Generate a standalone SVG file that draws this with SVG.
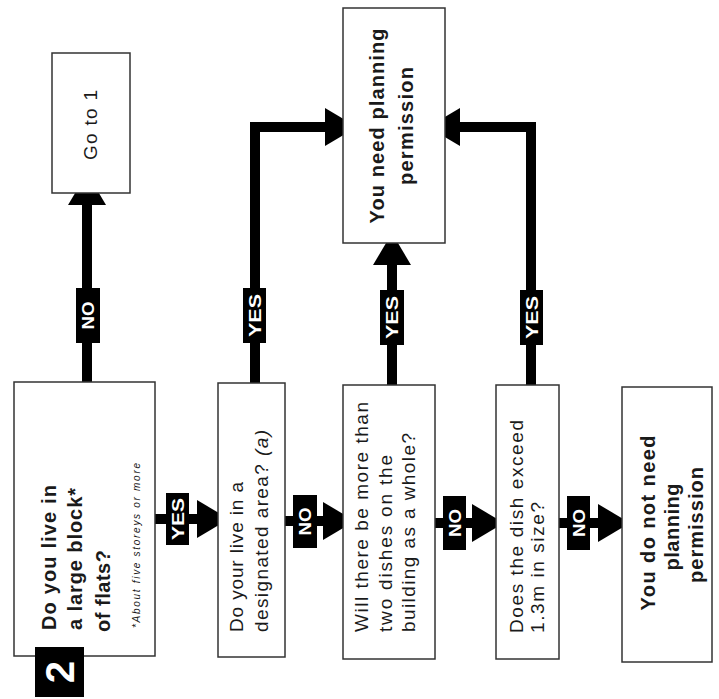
<svg xmlns="http://www.w3.org/2000/svg" width="719" height="699" viewBox="0 0 719 699">
<style>
.box{fill:#fff;stroke:#333;stroke-width:1.5}
.t{font-family:"Liberation Sans",Arial,Helvetica,sans-serif;font-size:19px;fill:#1a1a1a}
.bd{font-weight:bold;font-size:20px}
.c{text-anchor:middle}
.fn{font-size:10px;font-style:italic}
.wire{fill:none;stroke:#000;stroke-width:10;stroke-linejoin:miter}
.tag{fill:#000}
.lbl{font-family:"Liberation Sans",Arial,Helvetica,sans-serif;font-size:17px;font-weight:bold;fill:#fff;text-anchor:middle}
</style>
<defs>
<marker id="ah" viewBox="0 0 32 38" refX="0" refY="19" markerWidth="32" markerHeight="38" markerUnits="userSpaceOnUse" orient="auto">
<path d="M0,0 L32,19 L0,38 z" fill="#000"/>
</marker>
</defs>
<rect width="719" height="699" fill="#fff"/>

<g id="connectors">
<path class="wire" d="M87,382 V205" marker-end="url(#ah)"/>
<path class="wire" d="M255,383 V127 H325" marker-end="url(#ah)"/>
<path class="wire" d="M392,385 V265" marker-end="url(#ah)"/>
<path class="wire" d="M531,385 V127 H460" marker-end="url(#ah)"/>
<path class="wire" d="M155,519 H197" marker-end="url(#ah)"/>
<path class="wire" d="M285,521 H323" marker-end="url(#ah)"/>
<path class="wire" d="M435,523 H472" marker-end="url(#ah)"/>
<path class="wire" d="M559,523 H598" marker-end="url(#ah)"/>

<rect class="tag" x="76" y="288" width="24" height="55"/>
<text class="lbl" transform="translate(94,315.5) rotate(-90)" textLength="28" lengthAdjust="spacingAndGlyphs">NO</text>
<rect class="tag" x="243" y="288" width="23" height="55"/>
<text class="lbl" transform="translate(260.5,315.5) rotate(-90)" textLength="43" lengthAdjust="spacingAndGlyphs">YES</text>
<rect class="tag" x="380" y="290" width="24" height="55"/>
<text class="lbl" transform="translate(398,317.5) rotate(-90)" textLength="43" lengthAdjust="spacingAndGlyphs">YES</text>
<rect class="tag" x="520" y="290" width="23" height="55"/>
<text class="lbl" transform="translate(537.5,317.5) rotate(-90)" textLength="43" lengthAdjust="spacingAndGlyphs">YES</text>
<rect class="tag" x="166" y="493" width="23" height="52"/>
<text class="lbl" transform="translate(183.5,519) rotate(-90)" textLength="42" lengthAdjust="spacingAndGlyphs">YES</text>
<rect class="tag" x="293" y="495" width="24" height="53"/>
<text class="lbl" transform="translate(311,521.5) rotate(-90)" textLength="28" lengthAdjust="spacingAndGlyphs">NO</text>
<rect class="tag" x="443" y="496" width="23" height="54"/>
<text class="lbl" transform="translate(460.5,523) rotate(-90)" textLength="28" lengthAdjust="spacingAndGlyphs">NO</text>
<rect class="tag" x="567" y="496" width="23" height="54"/>
<text class="lbl" transform="translate(584.5,523) rotate(-90)" textLength="28" lengthAdjust="spacingAndGlyphs">NO</text>
</g>

<g id="q1">
<rect class="box" x="14" y="382" width="141" height="274"/>
<text class="t bd" transform="translate(56,630) rotate(-90)" textLength="145" lengthAdjust="spacing">Do you live in</text>
<text class="t bd" transform="translate(82,630) rotate(-90)" textLength="142" lengthAdjust="spacing">a large block*</text>
<text class="t bd" transform="translate(110,632) rotate(-90)" textLength="82" lengthAdjust="spacing">of flats?</text>
<text class="t fn" transform="translate(140,628) rotate(-90)" textLength="165" lengthAdjust="spacing">*About five storeys or more</text>
</g>

<g id="badge">
<rect x="35" y="647" width="49" height="50" fill="#000"/>
<text transform="translate(74,672) rotate(-90)" text-anchor="middle" font-family="Liberation Sans,Arial,sans-serif" font-weight="bold" font-size="40" fill="#fff">2</text>
</g>

<g id="goto1">
<rect class="box" x="52" y="53" width="78" height="140"/>
<text class="t c" transform="translate(97,125) rotate(-90)" textLength="70" lengthAdjust="spacing">Go to 1</text>
</g>

<g id="q2">
<rect class="box" x="218" y="383" width="67" height="274"/>
<text class="t" transform="translate(243,632) rotate(-90)" textLength="150" lengthAdjust="spacing">Do your live in a</text>
<text class="t" transform="translate(268,632) rotate(-90)" textLength="202" lengthAdjust="spacing">designated area? <tspan font-style="italic">(a)</tspan></text>
</g>

<g id="q3">
<rect class="box" x="343" y="385" width="92" height="274"/>
<text class="t" transform="translate(368,632) rotate(-90)" textLength="230" lengthAdjust="spacing">Will there be more than</text>
<text class="t" transform="translate(392,632) rotate(-90)" textLength="177" lengthAdjust="spacing">two dishes on the</text>
<text class="t" transform="translate(415,632) rotate(-90)" textLength="199" lengthAdjust="spacing">building as a whole?</text>
</g>

<g id="q4">
<rect class="box" x="496" y="385" width="63" height="274"/>
<text class="t" transform="translate(523,633) rotate(-90)" textLength="213" lengthAdjust="spacing">Does the dish exceed</text>
<text class="t" transform="translate(544,633) rotate(-90)" textLength="131" lengthAdjust="spacing">1.3m in size?</text>
</g>

<g id="needpp">
<rect class="box" x="343" y="8" width="102" height="235"/>
<text class="t bd c" transform="translate(384,126) rotate(-90)" textLength="195" lengthAdjust="spacing">You need planning</text>
<text class="t bd c" transform="translate(413,126) rotate(-90)" textLength="118" lengthAdjust="spacing">permission</text>
</g>

<g id="noneed">
<rect class="box" x="622" y="387" width="90" height="275"/>
<text class="t bd c" transform="translate(655,523) rotate(-90)" textLength="175" lengthAdjust="spacing">You do not need</text>
<text class="t bd c" transform="translate(679,527) rotate(-90)" textLength="87" lengthAdjust="spacing">planning</text>
<text class="t bd c" transform="translate(703,525) rotate(-90)" textLength="116" lengthAdjust="spacing">permission</text>
</g>
</svg>
